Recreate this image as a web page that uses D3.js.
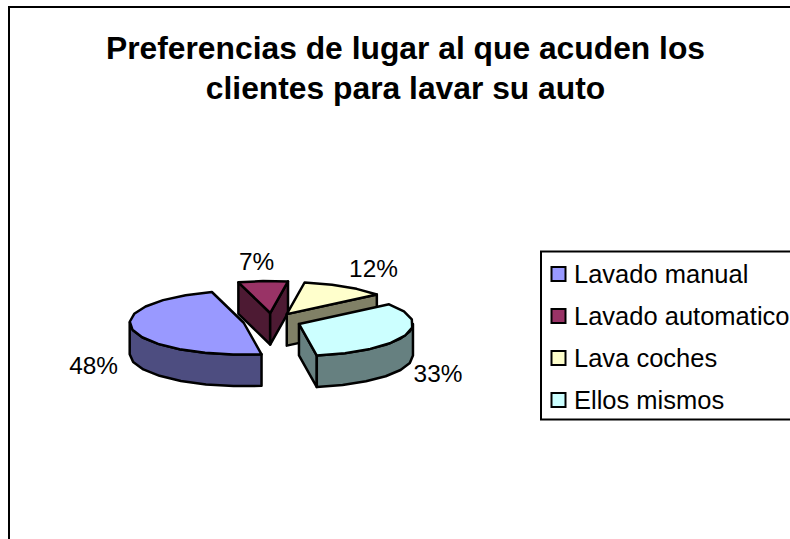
<!DOCTYPE html>
<html><head><meta charset="utf-8">
<script src="https://cdn.jsdelivr.net/npm/d3@7/dist/d3.min.js"></script>
<style>
html,body{margin:0;padding:0;background:#fff;overflow:hidden}
svg{display:block}
text{font-family:"Liberation Sans",Arial,sans-serif;fill:#000}
</style></head><body>
<script>
const titleLines = ["Preferencias de lugar al que acuden los", "clientes para lavar su auto"];
const categories = ["Lavado manual", "Lavado automatico", "Lava coches", "Ellos mismos"];
const values = [48, 7, 12, 33];
const topColors = ["#9999FF", "#993366", "#FFFFCC", "#CCFFFF"];
const sideColors = ["#4D4D80", "#4D1A33", "#808066", "#668080"];
const labelNudgeX = [-1, -4, 9, -3];
const drawOrder = [1, 2, 0, 3];

const W = 790, H = 539;
const svg = d3.select("body").append("svg").attr("width", W).attr("height", H);

// chart frame (runs off the right and bottom edges)
svg.append("rect").attr("x", 9).attr("y", 7).attr("width", W + 20).attr("height", H + 20)
  .attr("fill", "#fff").attr("stroke", "#000").attr("stroke-width", 2);

// title
svg.append("g").selectAll("text").data(titleLines).join("text")
  .attr("x", 405.5).attr("y", (d, i) => 59 + i * 40)
  .attr("text-anchor", "middle").attr("font-weight", "bold").attr("font-size", 31.8)
  .text(d => d);

// pie geometry
const cx = 272, cy = 321, rx = 114, ry = 32, depth = 31.5, explodeX = 29, explodeY = 8;
const rotation = 171 * Math.PI / 180;
const pie = d3.pie().sort(null).value(d => d).startAngle(rotation).endAngle(rotation + 2 * Math.PI);
const arcs = pie(values);
const px = d3.scaleLinear().domain([-1, 1]).range([-rx, rx]);
const py = d3.scaleLinear().domain([-1, 1]).range([-ry, ry]);
const step = 14 * Math.PI / 180;

function center(a) {
  const m = (a.startAngle + a.endAngle) / 2;
  return [cx + explodeX * Math.sin(m), cy - explodeY * Math.cos(m)];
}
function pt(c, t, dz = 0) { return [c[0] + px(Math.sin(t)), c[1] + py(-Math.cos(t)) + dz]; }
function samples(a0, a1) {
  const n = Math.max(1, Math.round((a1 - a0) / step));
  return d3.range(n + 1).map(i => a0 + (a1 - a0) * i / n);
}
const line = d3.line();
const tau = 2 * Math.PI;

const g = svg.append("g").attr("stroke", "#000").attr("stroke-width", 2.5).attr("stroke-linejoin", "round");

function face(points, fill) {
  g.append("path").attr("d", line(points) + "Z").attr("fill", fill);
}

drawOrder.forEach(i => {
  const a = arcs[i], c = center(a), side = sideColors[i];
  const base = [c[0], c[1]];
  // cut faces, visible when they turn toward the viewer
  if (Math.sin(a.startAngle) < 0) {
    face([base, pt(c, a.startAngle), pt(c, a.startAngle, depth), [c[0], c[1] + depth]], side);
  }
  if (Math.sin(a.endAngle) > 0) {
    face([base, pt(c, a.endAngle), pt(c, a.endAngle, depth), [c[0], c[1] + depth]], side);
  }
  // outer wall on the front half of the rim
  [0, tau].forEach(shift => {
    const lo = Math.max(a.startAngle, Math.PI / 2 + shift);
    const hi = Math.min(a.endAngle, 3 * Math.PI / 2 + shift);
    if (hi > lo) {
      const ts = samples(lo, hi);
      face(ts.map(t => pt(c, t)).concat(ts.slice().reverse().map(t => pt(c, t, depth))), side);
    }
  });
  // top face
  face([base].concat(samples(a.startAngle, a.endAngle).map(t => pt(c, t))), topColors[i]);
});

// percentage labels
const labelK = 1.34, backLift = 9, frontDrop = 2;
svg.append("g").selectAll("text").data(arcs).join("text")
  .attr("x", (a, i) => {
    const m = (a.startAngle + a.endAngle) / 2;
    return center(a)[0] + px(Math.sin(m)) * labelK + labelNudgeX[i];
  })
  .attr("y", a => {
    const m = (a.startAngle + a.endAngle) / 2;
    const front = Math.cos(m) < 0;
    return center(a)[1] + py(-Math.cos(m)) * labelK + (front ? depth + frontDrop : -backLift);
  })
  .attr("dy", "0.36em").attr("text-anchor", "middle").attr("font-size", 24.4)
  .text(a => a.data + "%");

// legend
const rowY = d3.scalePoint().domain(categories).range([274, 400]);
const legend = svg.append("g");
legend.append("rect").attr("x", 541).attr("y", 251.5).attr("width", W).attr("height", 168)
  .attr("fill", "#fff").attr("stroke", "#000").attr("stroke-width", 2);
const rows = legend.selectAll("g").data(categories).join("g")
  .attr("transform", d => `translate(0,${rowY(d)})`);
rows.append("rect").attr("x", 551.5).attr("y", -7).attr("width", 14).attr("height", 14)
  .attr("fill", (d, i) => topColors[i]).attr("stroke", "#000").attr("stroke-width", 2);
rows.append("text").attr("x", 574).attr("dy", "0.36em").attr("font-size", 25.5).text(d => d);
</script>
</body></html>
